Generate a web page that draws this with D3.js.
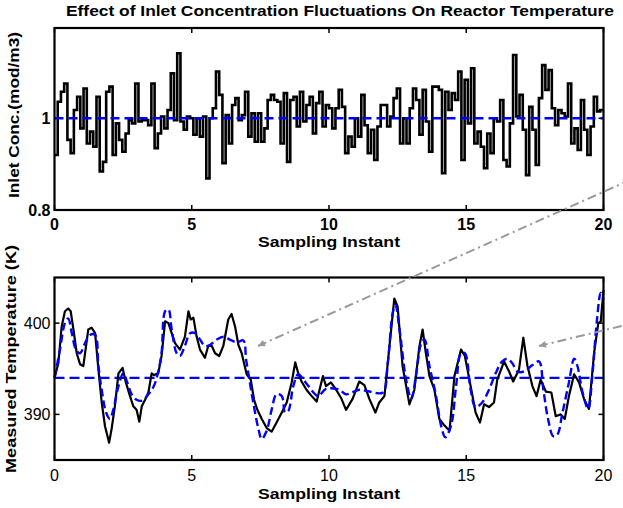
<!DOCTYPE html>
<html><head><meta charset="utf-8">
<script src="https://cdn.jsdelivr.net/npm/d3@7/dist/d3.min.js"></script>
<style>body{margin:0;background:#fff}svg{display:block}text{font-family:"Liberation Sans",Arial,Helvetica,sans-serif}</style>
</head><body>
<svg id="chart" width="623" height="508"></svg>
<script>
// ---------- DATA ----------
const xTicks = [0, 5, 10, 15, 20];
const concTicks = [0.8, 1];
const tempTicks = [390, 400];
const concNominal = 1;
const tempSetpoint = 394;

// inlet concentration (piecewise constant over equal sampling intervals, 0..20)
const concValues = [
0.920,1.036,1.058,1.076,0.953,0.924,1.018,1.047,0.978,1.065,0.945,0.971,0.938,1.047,0.884,0.905,
1.058,1.069,0.920,0.989,0.953,0.927,0.967,0.996,0.989,1.076,0.993,0.996,0.996,0.985,1.076,0.935,
0.967,1.004,0.978,1.018,1.098,0.996,1.142,0.993,0.975,1.004,1.000,0.964,1.000,0.960,1.004,0.869,
1.000,1.022,1.102,1.051,0.902,1.007,0.945,1.029,1.044,0.996,1.007,1.058,0.960,1.011,0.949,1.011,
0.949,0.978,1.040,1.051,1.040,1.036,0.945,1.055,0.905,1.040,1.047,0.982,1.058,0.993,1.029,
1.047,0.967,1.033,1.058,0.982,1.029,1.022,0.978,1.022,1.062,1.025,0.924,0.960,0.938,1.000,0.960,
1.051,0.985,0.924,0.975,0.909,0.982,1.029,1.029,0.982,1.004,1.044,1.065,0.945,1.000,0.945,1.022,
1.065,1.040,0.964,1.062,0.993,0.927,1.069,1.069,1.062,0.880,1.058,1.018,1.055,1.040,1.102,0.909,
1.084,0.989,1.109,0.945,0.971,0.938,0.891,0.967,0.924,1.000,0.993,1.040,0.909,0.895,0.989,1.138,
1.004,1.051,0.975,0.876,1.025,0.975,0.898,1.044,1.116,1.062,1.105,1.022,0.985,1.018,1.011,1.004,
1.076,0.945,0.978,0.931,1.040,0.975,0.920,0.982,1.047,1.015,1.018];

// measured reactor temperature (K)
const measT = [0,0.14,0.26,0.38,0.5,0.59,0.69,0.81,0.93,1.05,1.15,1.23,1.35,1.48,1.6,1.72,1.84,1.99,2.08,2.2,
2.33,2.48,2.6,2.75,2.87,2.99,3.09,3.18,3.3,3.42,3.54,3.62,3.78,3.9,4.03,4.15,4.27,4.39,4.57,4.75,
4.88,4.96,5.06,5.18,5.3,5.48,5.6,5.73,5.85,6.0,6.15,6.33,6.45,6.58,6.7,6.82,7.0,7.15,7.27,7.39,
7.55,7.73,7.91,8.09,8.28,8.46,8.64,8.77,8.88,9.0,9.18,9.37,9.55,9.78,9.89,10.07,10.26,10.44,10.62,10.86,
11.1,11.29,11.47,11.69,11.83,12.02,12.2,12.38,12.5,12.68,12.93,13.11,13.29,13.41,13.53,13.66,13.84,14.02,14.2,14.39,
14.57,14.81,14.95,15.16,15.34,15.5,15.65,15.83,16.01,16.13,16.38,16.56,16.71,16.92,17.08,17.23,17.41,17.56,17.71,17.9,
18.1,18.26,18.44,18.59,18.74,18.93,19.11,19.29,19.47,19.66,19.81,19.9,20.0];
const measTemp = [394.0,395.6,399.6,401.3,401.6,401.3,399.3,396.7,395.5,395.3,397.5,399.3,399.5,398.9,394.9,391.3,388.7,386.9,388.4,390.9,
394.5,395.1,393.5,392.0,390.9,390.5,389.2,390.9,391.6,392.4,394.5,394.3,394.5,396.4,400.2,400.0,398.9,397.8,397.1,398.5,
401.3,400.4,400.6,398.5,397.1,396.2,397.5,397.5,396.7,396.4,397.5,400.4,401.0,399.6,397.6,396.7,394.4,393.8,391.6,390.5,
389.5,388.5,388.1,389.1,390.2,391.3,393.5,395.7,394.5,393.6,392.7,392.0,391.4,394.2,393.1,393.5,392.7,391.8,390.5,391.7,
393.6,393.2,391.7,390.2,391.3,392.0,397.4,402.7,401.8,395.3,391.1,392.7,397.4,399.3,396.7,394.2,392.7,389.5,388.8,388.2,
394.2,397.1,396.4,393.1,390.2,389.1,391.1,390.8,391.3,393.8,395.8,394.7,393.6,394.9,398.4,395.3,393.1,392.0,393.8,392.5,
392.4,389.8,390.0,389.5,392.0,394.4,393.5,391.7,390.6,396.8,400.0,400.2,403.6];

// model-predicted temperature (K)
const predT = [0,0.2,0.38,0.5,0.63,0.78,0.93,1.11,1.29,1.48,1.6,1.72,1.88,2.02,2.14,2.33,2.51,2.65,2.81,2.99,
3.18,3.42,3.62,3.78,3.9,4.03,4.15,4.27,4.45,4.57,4.75,4.94,5.12,5.3,5.48,5.66,5.91,6.15,6.39,6.64,
6.88,6.98,7.1,7.24,7.43,7.55,7.73,7.91,8.09,8.28,8.4,8.52,8.7,8.88,9.07,9.25,9.43,9.61,9.89,10.38,
10.62,11.1,11.47,11.96,12.14,12.32,12.42,12.57,12.81,13.0,13.18,13.36,13.48,13.66,13.9,14.08,14.24,14.45,14.63,14.81,
14.95,15.16,15.34,15.58,15.83,16.07,16.31,16.5,16.68,16.86,17.1,17.41,17.65,17.81,17.98,18.17,18.32,18.5,18.74,18.93,
19.05,19.23,19.44,19.6,19.76,19.9,20.0];
const predTemp = [394.0,397.1,400.0,400.5,398.9,397.1,396.7,397.8,398.7,398.7,395.3,392.7,390.2,389.5,390.5,393.1,394.5,393.5,392.2,391.6,
391.5,392.2,393.1,394.7,396.7,401.3,401.5,399.3,396.7,396.4,397.5,398.9,398.9,398.2,397.5,397.6,398.2,398.5,398.2,397.9,
398.1,396.0,393.8,391.3,388.4,387.3,388.2,390.5,392.2,392.0,390.2,390.4,393.1,394.4,393.8,393.1,392.4,392.0,392.8,392.7,
392.2,392.7,392.5,392.4,395.6,401.1,402.0,399.3,393.8,391.7,394.5,397.8,398.2,395.3,392.0,388.8,387.5,388.8,393.1,396.7,
396.7,392.7,390.8,391.3,392.7,394.5,395.8,396.1,395.6,394.7,394.7,395.4,395.8,392.7,389.5,387.6,387.8,390.1,393.5,396.1,
395.3,392.5,390.6,394.5,400.3,403.3,402.6];

// ---------- DRAW ----------
const svg = d3.select("#chart");
const L = 54.5, R = 603.5;
const x = d3.scaleLinear().domain([0, 20]).range([L, R]);
const top1 = 28, bot1 = 210;
const y1 = d3.scaleLinear().domain([0.8, 1.2]).range([bot1, 26.6]);
const top2 = 277.5, bot2 = 460;
const y2 = d3.scaleLinear().domain([385, 405]).range([bot2, top2]);

// title
svg.append("text").attr("x", 66).attr("y", 16).attr("font-size", 14).attr("font-weight", "bold")
  .attr("textLength", 548).attr("lengthAdjust", "spacingAndGlyphs")
  .text("Effect of Inlet Concentration Fluctuations On Reactor Temperature");

function panel(y, yTicks, top, bot, tickBold, ylab, ylabLen, ylabCenter, ylabX, xlabY, xtickY) {
  const g = svg.append("g");
  const tk = 5;
  xTicks.forEach(t => {
    g.append("line").attr("x1", x(t)).attr("x2", x(t)).attr("y1", bot).attr("y2", bot - tk).attr("stroke", "#000").attr("stroke-width", 1.5);
    g.append("line").attr("x1", x(t)).attr("x2", x(t)).attr("y1", top).attr("y2", top + tk).attr("stroke", "#000").attr("stroke-width", 1.5);
    g.append("text").attr("x", x(t)).attr("y", xtickY).attr("text-anchor", "middle")
      .attr("font-size", 16).attr("font-weight", tickBold ? "bold" : "normal").text(t);
  });
  yTicks.forEach(v => {
    g.append("line").attr("x1", L).attr("x2", L + tk).attr("y1", y(v)).attr("y2", y(v)).attr("stroke", "#000").attr("stroke-width", 1.5);
    g.append("line").attr("x1", R).attr("x2", R - tk).attr("y1", y(v)).attr("y2", y(v)).attr("stroke", "#000").attr("stroke-width", 1.5);
    g.append("text").attr("x", L - 4).attr("y", y(v) + 6).attr("text-anchor", "end")
      .attr("font-size", 16).attr("font-weight", tickBold ? "bold" : "normal").text(v);
  });
  svg.append("text").attr("x", x(10)).attr("y", xlabY).attr("text-anchor", "middle")
    .attr("font-size", 15).attr("font-weight", "bold").attr("textLength", 142).attr("lengthAdjust", "spacingAndGlyphs")
    .text("Sampling Instant");
  svg.append("text").attr("transform", `translate(${ylabX},${ylabCenter}) rotate(-90)`).attr("text-anchor", "middle")
    .attr("font-size", 15).attr("font-weight", "bold").attr("textLength", ylabLen).attr("lengthAdjust", "spacingAndGlyphs")
    .text(ylab);
  return g;
}

panel(y1, concTicks, top1, bot1, true, "Inlet Conc.(mod/m3)", 166, 115, 19, 247, 230);
panel(y2, tempTicks, top2, bot2, false, "Measured Temperature (K)", 228, 359, 16, 499, 481);

// top panel data
const dt = 20 / concValues.length;
const concPts = concValues.map((v, i) => [i * dt, v]);
concPts.push([20, concValues[concValues.length - 1]]);
svg.append("path").datum(concPts)
  .attr("d", d3.line().x(d => x(d[0])).y(d => y1(d[1])).curve(d3.curveStepAfter))
  .attr("fill", "none").attr("stroke", "#000").attr("stroke-width", 2.6);
svg.append("line").attr("x1", x(0)).attr("x2", x(20)).attr("y1", y1(concNominal)).attr("y2", y1(concNominal))
  .attr("stroke", "#0000ff").attr("stroke-width", 2.4).attr("stroke-dasharray", "9,5");

// bottom panel data
svg.append("line").attr("x1", x(0)).attr("x2", x(20)).attr("y1", y2(tempSetpoint)).attr("y2", y2(tempSetpoint))
  .attr("stroke", "#0000ff").attr("stroke-width", 2.4).attr("stroke-dasharray", "10,5");
svg.append("path").datum(measT.map((t, i) => [t, measTemp[i]]))
  .attr("d", d3.line().x(d => x(d[0])).y(d => y2(d[1])))
  .attr("fill", "none").attr("stroke", "#000").attr("stroke-width", 2.2).attr("stroke-linejoin", "round");
svg.append("path").datum(predT.map((t, i) => [t, predTemp[i]]))
  .attr("d", d3.line().x(d => x(d[0])).y(d => y2(d[1])).curve(d3.curveCatmullRom.alpha(0.5)))
  .attr("fill", "none").attr("stroke", "#0000ff").attr("stroke-width", 2.4).attr("stroke-dasharray", "8,4");

// frames
[[top1, bot1], [top2, bot2]].forEach(([t, b]) => {
  svg.append("rect").attr("x", L).attr("y", t).attr("width", R - L).attr("height", b - t)
    .attr("fill", "none").attr("stroke", "#000").attr("stroke-width", 2.2);
});

// annotation arrows
const defs = svg.append("defs");
defs.append("marker").attr("id", "ah").attr("viewBox", "0 0 10 10").attr("refX", 0).attr("refY", 5)
  .attr("markerWidth", 9).attr("markerHeight", 7).attr("markerUnits", "userSpaceOnUse").attr("orient", "auto")
  .append("path").attr("d", "M10,0 L0,5 L10,10 Z").attr("fill", "#999");
function arrow(x1, y1a, x2, y2a) {
  svg.append("line").attr("x1", x1).attr("y1", y1a).attr("x2", x2).attr("y2", y2a)
    .attr("stroke", "#999").attr("stroke-width", 2).attr("stroke-dasharray", "9,4,2,4")
    .attr("marker-start", "url(#ah)");
}
arrow(258, 346, 630, 180);
arrow(539, 346, 630, 324);
</script>
</body></html>
